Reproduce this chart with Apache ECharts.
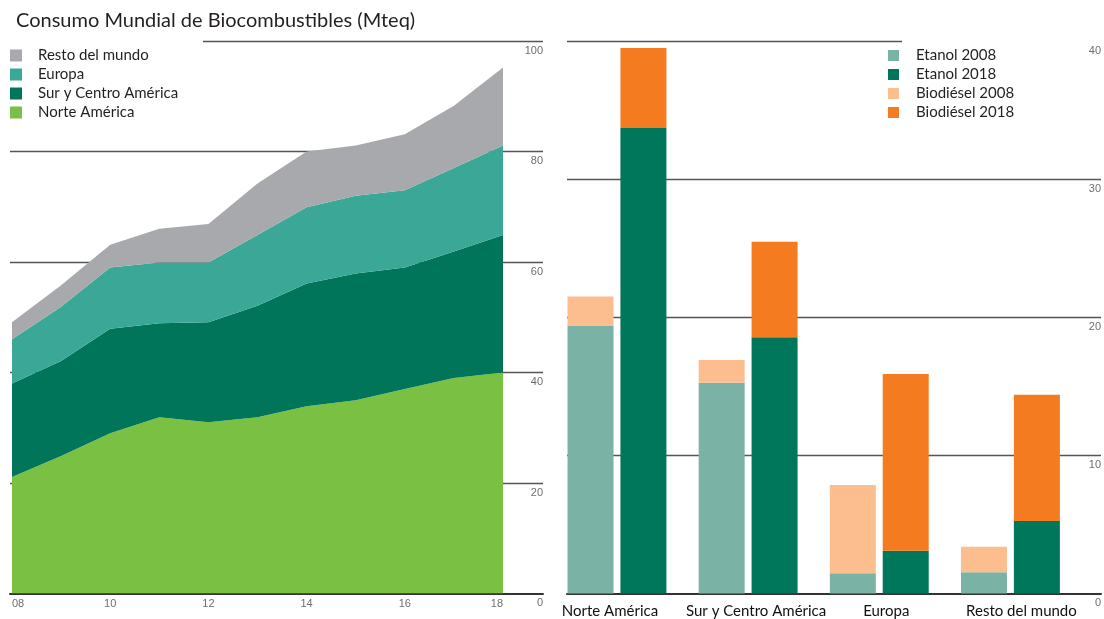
<!DOCTYPE html>
<html>
<head>
<meta charset="utf-8">
<script src="https://cdn.jsdelivr.net/npm/echarts@6/dist/echarts.min.js"></script>
<style>html,body{margin:0;padding:0;background:#fff;}#c{width:1104px;height:619px;}</style>
</head>
<body>
<div id="c"></div>
<script>
// ---- Left chart data (Mteq) ----
const years = ['08','09','10','11','12','13','14','15','16','17','18'];
const norteAmerica = [21.1, 24.9, 29.0, 31.9, 31.0, 31.9, 33.9, 35.0, 37.0, 39.0, 40.0];
const surCentroAmerica = [16.9, 17.2, 18.9, 17.0, 18.1, 20.2, 22.2, 22.9, 22.0, 22.9, 24.9];
const europa = [8.0, 9.8, 11.1, 11.0, 10.8, 12.8, 13.8, 14.1, 14.0, 15.1, 16.2];
const restoMundo = [3.1, 3.9, 4.1, 6.1, 7.0, 9.3, 10.1, 9.1, 10.1, 11.3, 14.1];

// ---- Right chart data ----
const regions = ['Norte América', 'Sur y Centro América', 'Europa', 'Resto del mundo'];
const etanol2008 = [19.4, 15.25, 1.46, 1.53];
const biodiesel2008 = [2.1, 1.65, 6.4, 1.86];
const etanol2018 = [33.7, 18.56, 3.1, 5.25];
const biodiesel2018 = [5.8, 6.9, 12.8, 9.14];

const C = {
  na: '#7ac143', sca: '#00755a', eu: '#3aa797', rest: '#a7a9ac',
  e08: '#7ab3a6', e18: '#00765b', b08: '#fdbe8f', b18: '#f47b20'
};
const gridLine = '#555';
const tickFont = {color: '#6d6e71', fontSize: 11, fontFamily: 'Liberation Sans'};
const txtFont = 'Lato';
// horizontal nudges of the category labels (px, + = right), as in the source layout
const regionLabelShift = [-7, 8, 7, 11];

function area(name, data, color) {
  return {
    name, type: 'line', stack: 'total', data, xAxisIndex: 1, yAxisIndex: 1,
    symbol: 'none', lineStyle: {width: 0}, areaStyle: {color, opacity: 1},
    itemStyle: {color}, emphasis: {disabled: true}
  };
}
function bar(name, data, color, stack) {
  return {
    name, type: 'bar', stack, data, xAxisIndex: 3, yAxisIndex: 3,
    barWidth: 46, barGap: '15%', itemStyle: {color}, emphasis: {disabled: true}
  };
}
function valAxis(grid, max, interval) {
  return {
    gridIndex: grid, type: 'value', position: 'right', min: 0, max, interval,
    axisLine: {show: false}, axisTick: {show: false},
    splitLine: {show: true, showMinLine: false, showMaxLine: false, lineStyle: {color: gridLine, width: 1.4}},
    axisLabel: Object.assign({inside: true, margin: 0, verticalAlign: 'top', padding: [4, 0, 0, 0]}, tickFont)
  };
}
function lineGridX(grid) {
  return {
    gridIndex: grid, type: 'value', min: 0, max: 1,
    axisLine: {show: true, onZero: false, lineStyle: {color: '#333', width: 2}},
    axisTick: {show: false}, axisLabel: {show: false}, splitLine: {show: false}
  };
}
function topLine(xi, yi, fromFrac, toFrac, yVal) {
  return {
    type: 'line', xAxisIndex: xi, yAxisIndex: yi, data: [], silent: true,
    markLine: {
      silent: true, symbol: 'none', label: {show: false},
      lineStyle: {color: gridLine, width: 1.4, type: 'solid'},
      data: [[{coord: [fromFrac, yVal]}, {coord: [toFrac, yVal]}]]
    }
  };
}
const regionAxisData = regions.map((r, i) => {
  const s = regionLabelShift[i];
  return {value: r, textStyle: {padding: s >= 0 ? [0, 0, 0, 2 * s] : [0, -2 * s, 0, 0]}};
});

const chart = echarts.init(document.getElementById('c'));
chart.setOption({
  animation: false,
  backgroundColor: '#fff',
  title: {
    text: 'Consumo Mundial de Biocombustibles (Mteq)', left: 11, top: 6,
    textStyle: {fontFamily: txtFont, fontSize: 20, fontWeight: 'normal', color: '#231f20'}
  },
  legend: [
    {
      left: 5, top: 43, orient: 'vertical', icon: 'rect', itemWidth: 12, itemHeight: 12, itemGap: 4,
      data: ['Resto del mundo', 'Europa', 'Sur y Centro América', 'Norte América'],
      textStyle: {fontFamily: txtFont, fontSize: 15, color: '#231f20', padding: [0, 0, 0, 11]},
      selectedMode: false
    },
    {
      left: 883, top: 43, orient: 'vertical', icon: 'rect', itemWidth: 11, itemHeight: 11, itemGap: 4,
      data: ['Etanol 2008', 'Etanol 2018', 'Biodiésel 2008', 'Biodiésel 2018'],
      textStyle: {fontFamily: txtFont, fontSize: 15, color: '#231f20', padding: [0, 0, 0, 12]},
      selectedMode: false
    }
  ],
  grid: [
    {left: 10, width: 533, top: 41, height: 552.5},
    {left: 12, width: 491, top: 41, height: 552.5},
    {left: 567, width: 534, top: 41, height: 552.5},
    {left: 551.4, width: 524.6, top: 41, height: 552.5}
  ],
  xAxis: [
    lineGridX(0),
    {
      gridIndex: 1, type: 'category', data: years, boundaryGap: false,
      axisLine: {show: false}, axisTick: {show: false}, splitLine: {show: false},
      axisLabel: Object.assign({interval: 1, margin: 5, alignMinLabel: 'left', alignMaxLabel: 'right'}, tickFont)
    },
    lineGridX(2),
    {
      gridIndex: 3, type: 'category', data: regionAxisData,
      axisLine: {show: false}, axisTick: {show: false}, splitLine: {show: false},
      axisLabel: {interval: 0, margin: 10, color: '#111', fontSize: 15, fontFamily: txtFont}
    }
  ],
  yAxis: [
    valAxis(0, 100, 20),
    {gridIndex: 1, type: 'value', min: 0, max: 100, show: false, splitLine: {show: false}},
    valAxis(2, 40, 10),
    {gridIndex: 3, type: 'value', min: 0, max: 40, show: false, splitLine: {show: false}}
  ],
  series: [
    topLine(0, 0, (203 - 10) / 533, 1, 100),
    topLine(2, 2, 0, (902 - 567) / 534, 40),
    area('Norte América', norteAmerica, C.na),
    area('Sur y Centro América', surCentroAmerica, C.sca),
    area('Europa', europa, C.eu),
    area('Resto del mundo', restoMundo, C.rest),
    bar('Etanol 2008', etanol2008, C.e08, 's2008'),
    bar('Biodiésel 2008', biodiesel2008, C.b08, 's2008'),
    bar('Etanol 2018', etanol2018, C.e18, 's2018'),
    bar('Biodiésel 2018', biodiesel2018, C.b18, 's2018')
  ]
});
</script>
</body>
</html>
